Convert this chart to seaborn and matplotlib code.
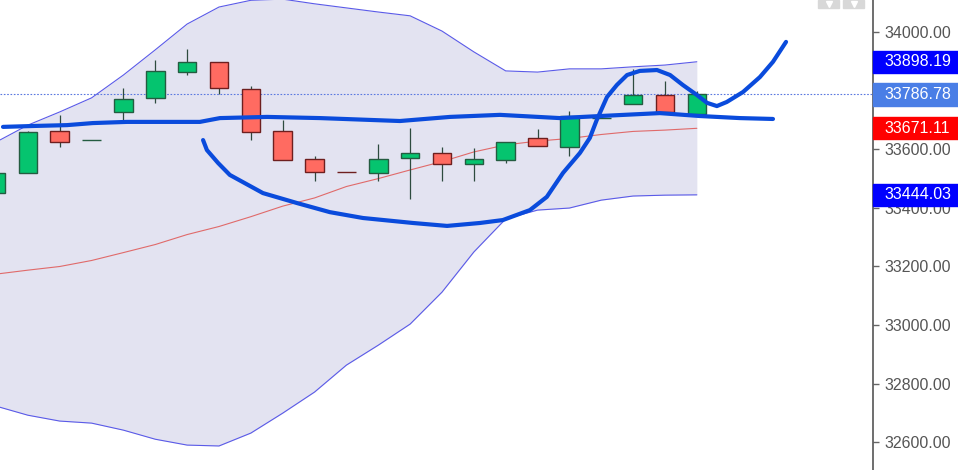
import numpy as np
import pandas as pd
import matplotlib
matplotlib.use("Agg")
import matplotlib.pyplot as plt
import matplotlib.transforms as mtransforms
from matplotlib.patches import Rectangle
from matplotlib.lines import Line2D
from matplotlib.ticker import FormatStrFormatter
import seaborn as sns

# candles, oldest first (first one is cut off by the left edge)
opens  = [33450, 33519, 33662, 33630, 33727, 33775, 33863, 33898, 33805, 33662, 33566, 33523,
          33519, 33570, 33587, 33549, 33563, 33638, 33607, 33705, 33754, 33785, 33720]
closes = [33519, 33659, 33624, 33632, 33771, 33867, 33898, 33809, 33659, 33563, 33522, 33521,
          33566, 33587, 33549, 33566, 33624, 33611, 33713, 33707, 33785, 33727, 33786.78]
highs  = [33530, 33662, 33717, 33632, 33809, 33904, 33942, 33898, 33816, 33700, 33577, 33523,
          33618, 33672, 33607, 33604, 33624, 33669, 33730, 33707, 33874, 33833, 33799]
lows   = [33440, 33519, 33607, 33630, 33696, 33758, 33853, 33788, 33631, 33563, 33491, 33521,
          33491, 33430, 33491, 33491, 33553, 33611, 33577, 33705, 33754, 33727, 33720]

# bollinger bands
upper_band = [33624, 33682, 33727, 33775, 33853, 33939, 34027, 34085, 34108, 34112, 34096, 34082,
              34068, 34055, 34003, 33932, 33867, 33863, 33874, 33874, 33881, 33887, 33898.19]
lower_band = [32723, 32692, 32672, 32665, 32641, 32610, 32590, 32587, 32631, 32699, 32771, 32863,
              32931, 33003, 33112, 33249, 33362, 33392, 33399, 33426, 33440, 33443, 33444.03]
mid_band   = [33173.5, 33187, 33199.5, 33220, 33247, 33274.5, 33308.5, 33336, 33369.5, 33405.5,
              33433.5, 33472.5, 33499.5, 33529, 33557.5, 33590.5, 33614.5, 33627.5, 33636.5,
              33650, 33660.5, 33665, 33671.11]

last_price = 33786.78
# 33800 sits under the last-price tag, so it has no label of its own
price_ticks = [32600, 32800, 33000, 33200, 33400, 33600, 34000]
tag_values = [33898.19, 33786.78, 33671.11, 33444.03]
tag_labels = ["33898.19", "33786.78", "33671.11", "33444.03"]

# hand drawn strokes (x = candle position, y = price)
flat_x = [0.22, 1.16, 2.23, 3.04, 4.11, 6.40, 7.03, 8.51, 10.17, 12.68, 14.25, 15.82, 17.70,
          18.96, 20.84, 22.10, 23.35, 24.39]
flat_y = [33676, 33679, 33682, 33689, 33693, 33693, 33706, 33710, 33706, 33696, 33710, 33717,
          33706, 33713, 33723, 33713, 33706, 33703]
cup_x = [6.50, 6.62, 6.97, 7.34, 8.38, 9.45, 10.48, 11.52, 13.09, 14.16, 15.19, 15.91, 16.76,
         17.29, 17.80, 18.33, 18.64, 18.86, 19.18, 19.49, 19.81, 20.21, 20.75, 21.16, 21.56,
         22.00, 22.32, 22.63, 22.94, 23.45, 23.98, 24.39, 24.80]
cup_y = [33631, 33597, 33553, 33512, 33450, 33416, 33385, 33365, 33348, 33338, 33348, 33358,
         33392, 33437, 33519, 33587, 33638, 33700, 33778, 33819, 33853, 33867, 33870, 33853,
         33819, 33785, 33758, 33747, 33761, 33795, 33846, 33898, 33966]

sns.set_style("white")
plt.rcParams['font.family'] = ['Liberation Sans', 'DejaVu Sans']

fig = plt.figure(figsize=(9.58, 4.70), dpi=100)
ax = fig.add_axes([0, 0, 873 / 958, 1])

pos = np.arange(len(opens))
bands = pd.DataFrame({'pos': pos, 'upper': upper_band, 'lower': lower_band, 'mid': mid_band})

ax.fill_between(bands.pos, bands.lower, bands.upper, color='#e3e3f1', lw=0, zorder=0)
sns.lineplot(data=bands, x='pos', y='upper', color='#5a5ae8', lw=0.8, ax=ax, zorder=1)
sns.lineplot(data=bands, x='pos', y='lower', color='#5a5ae8', lw=0.8, ax=ax, zorder=1)
sns.lineplot(data=bands, x='pos', y='mid', color='#e06a6a', lw=0.8, ax=ax, zorder=1)

ax.axhline(last_price, color='#5a78e0', lw=0.8, ls=(0, (1.5, 1.5)), zorder=1)

# candles
o = np.array(opens); c = np.array(closes)
up = c >= o
bottom = np.minimum(o, c)
height = np.abs(c - o)
ax.vlines(pos, lows, highs, color='#2d4b3f', lw=0.9, zorder=2)
ax.bar(pos[up], height[up], bottom=bottom[up], width=0.58, color='#05c46f',
       edgecolor='#245c41', lw=1.0, zorder=3)
ax.bar(pos[~up], height[~up], bottom=bottom[~up], width=0.58, color='#ff6b61',
       edgecolor='#6e1f1f', lw=1.0, zorder=3)

# blue marker strokes
for sx, sy in [(flat_x, flat_y), (cup_x, cup_y)]:
    sns.lineplot(x=sx, y=sy, color='#0a4bdc', lw=3.0, sort=False, estimator=None, ax=ax,
                 zorder=4, solid_capstyle='round', solid_joinstyle='round')

ax.set_xlim(0.1256, 27.53)
ax.set_ylim(32505, 34109)
ax.set_xlabel('')
ax.set_ylabel('')
ax.set_xticks([])

ax.yaxis.tick_right()
ax.set_yticks(price_ticks)
ax.yaxis.set_major_formatter(FormatStrFormatter('%.2f'))
ax.tick_params(axis='y', right=True, left=False, length=4, width=1, color='#666666',
               labelcolor='#555555', labelsize=11.5, pad=4)
for side in ['left', 'top', 'bottom']:
    ax.spines[side].set_visible(False)
ax.spines['right'].set_color('#555555')
ax.spines['right'].set_linewidth(1.2)

# price tags on the axis
trans = mtransforms.blended_transform_factory(ax.transAxes, ax.transData)
tag_colors = ['#0000ff', '#4a7ee6', '#ff0000', '#0000ff']
for val, lab, col in zip(tag_values, tag_labels, tag_colors):
    ax.add_patch(Rectangle((1.0, val - 38), 0.1, 76, transform=trans, color=col,
                           clip_on=False, zorder=5))
    ax.text(1.0126, val, lab, transform=trans, color='white', fontsize=11.5,
            va='center', ha='left', zorder=6, clip_on=False)

# little toolbar buttons top right
for bx in [818, 843]:
    fig.add_artist(Rectangle((bx / 958, 1 - 8 / 470), 21 / 958, 8 / 470,
                             transform=fig.transFigure, color='#d8d8d8'))
    fig.add_artist(Line2D([(bx + 10.5) / 958], [1 - 4 / 470], transform=fig.transFigure,
                          marker='v', markersize=4, color='white', lw=0))

fig.savefig('out.png', dpi=100)
